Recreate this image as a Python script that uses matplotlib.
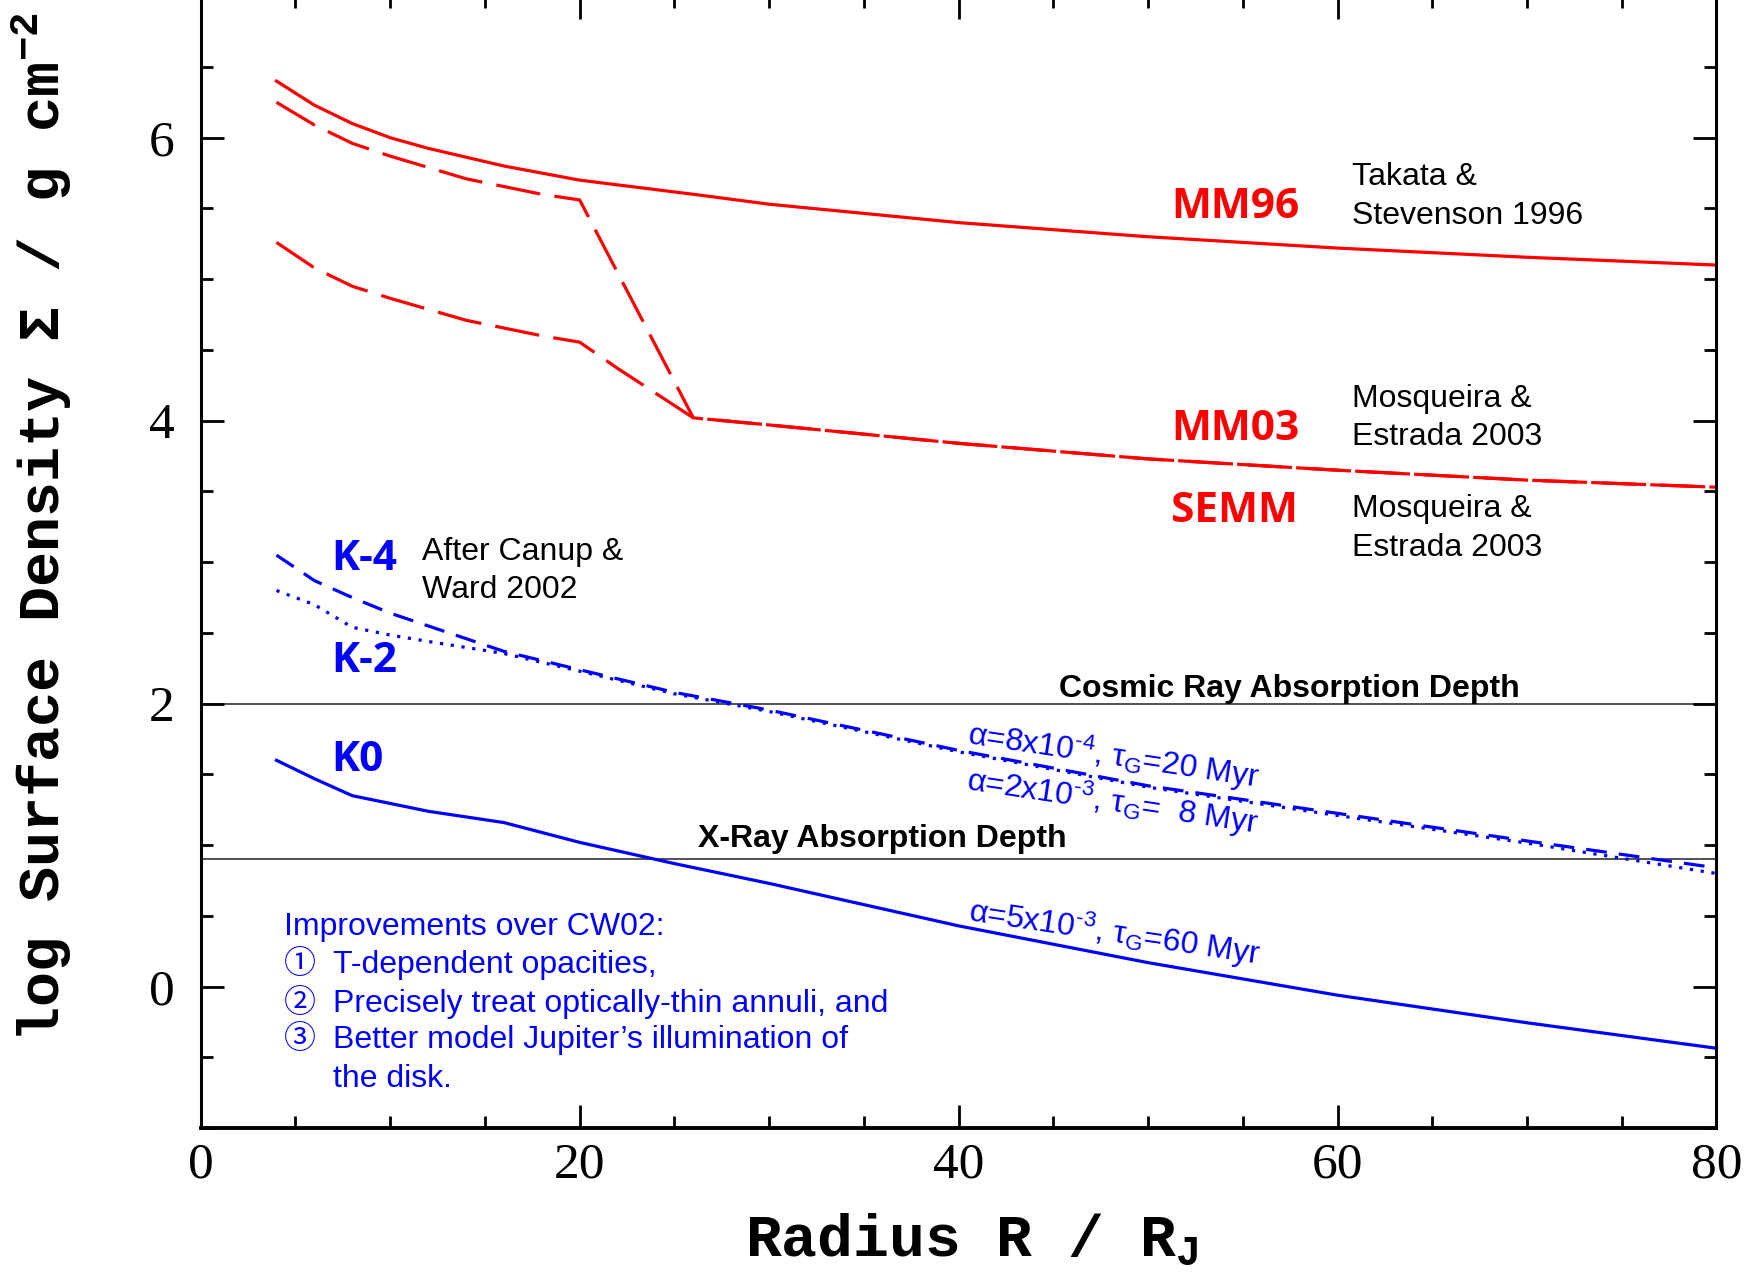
import matplotlib
matplotlib.use("Agg")
import matplotlib.pyplot as plt
from matplotlib.ticker import MultipleLocator

plt.rcParams['mathtext.fontset'] = 'custom'
plt.rcParams['mathtext.rm'] = 'Liberation Sans'
plt.rcParams['mathtext.it'] = 'Liberation Sans:italic'
plt.rcParams['mathtext.bf'] = 'Liberation Mono:bold'

# ---------------- data ----------------
r_mm96 = [4, 6, 8, 10, 12, 16, 20, 26, 30, 40, 50, 60, 70, 80]
s_mm96 = [6.40, 6.23, 6.10, 6.00, 5.925, 5.80, 5.70, 5.60, 5.53, 5.40, 5.30, 5.22, 5.155, 5.10]

r_mm03 = [4, 6, 8, 10, 14, 18, 20, 26, 30, 40, 50, 60, 70, 80]
s_mm03 = [6.25, 6.09, 5.96, 5.87, 5.71, 5.60, 5.56, 4.02, 3.97, 3.84, 3.73, 3.65, 3.58, 3.53]

r_semm = [4, 6, 8, 10, 14, 18, 20, 22, 26, 30, 40, 50, 60, 70, 80]
s_semm = [5.26, 5.08, 4.95, 4.865, 4.71, 4.60, 4.555, 4.37, 4.02, 3.97, 3.84, 3.73, 3.65, 3.58, 3.53]

r_k = [4, 6, 8, 10, 12, 16, 20, 25, 30, 40, 50, 60, 70, 80]
s_k4 = [3.05, 2.87, 2.75, 2.64, 2.55, 2.37, 2.24, 2.08, 1.955, 1.67, 1.42, 1.225, 1.03, 0.84]
s_k2 = [2.80, 2.70, 2.54, 2.485, 2.44, 2.355, 2.23, 2.07, 1.945, 1.66, 1.41, 1.21, 1.015, 0.80]

r_k0 = [4, 6, 8, 12, 16, 20, 25, 30, 40, 50, 60, 70, 80]
s_k0 = [1.60, 1.47, 1.35, 1.24, 1.16, 1.02, 0.87, 0.73, 0.43, 0.17, -0.06, -0.255, -0.435]

cosmic_ray_depth = 2.0
xray_depth = 0.9

x_major = [0, 20, 40, 60, 80]
y_major = [0, 2, 4, 6]

# ---------------- figure ----------------
W, H = 1758, 1275
fig = plt.figure(figsize=(W / 100, H / 100), dpi=100)
ax = fig.add_axes([200.7 / W, 1 - 1128.2 / H, (1716.5 - 200.7) / W, (1128.2 + 3.8) / H])
ax.set_xlim(0, 80)
ax.set_ylim(-1, 7)

RED = (1, 0, 0)
BLUE = (0, 0, 1)

ax.axhline(cosmic_ray_depth, color='#222222', lw=1.1, zorder=1)
ax.axhline(xray_depth, color='#222222', lw=1.1, zorder=1)

ax.plot(r_mm96, s_mm96, color=RED, lw=2.3)
ax.plot(r_mm03, s_mm03, color=RED, lw=2.3, dashes=(14, 4.5))
ax.plot(r_semm, s_semm, color=RED, lw=2.3, dashes=(14, 4.5))

ax.plot(r_k, s_k4, color=BLUE, lw=2.3, dashes=(6.5, 3.8))
ax.plot(r_k, s_k2, color=BLUE, lw=2.3, dashes=(1, 2.4))
ax.plot(r_k0, s_k0, color=BLUE, lw=2.3)

# ticks & spines
ax.set_xticks(x_major)
ax.set_yticks(y_major)
ax.xaxis.set_minor_locator(MultipleLocator(5))
ax.yaxis.set_minor_locator(MultipleLocator(0.5))
ax.tick_params(which='both', direction='in', top=True, right=True, width=2.0, color='black')
ax.tick_params(which='major', length=16.5)
ax.tick_params(which='minor', length=8.5)
ax.tick_params(axis='x', which='major', pad=10)
ax.tick_params(axis='y', which='major', pad=19)
for lab in ax.get_xticklabels() + ax.get_yticklabels():
    lab.set_fontfamily('Liberation Serif')
    lab.set_fontsize(37)
ax.spines['top'].set_visible(False)
ax.spines['left'].set_linewidth(2.2)
ax.spines['right'].set_linewidth(2.2)
ax.spines['bottom'].set_linewidth(2.8)

# axis labels
fig.text(972 / W, 1 - 1256 / H, r"Radius R / R$_{\mathbf{J}}$", family='Liberation Mono',
         weight='bold', fontsize=43, ha='center', va='baseline')
fig.text(42 / W, 1 - 1042 / H, r"log Surface Density Σ / g cm$^{\mathbf{-2}}$", family='Liberation Mono',
         weight='bold', fontsize=42, rotation=90, ha='center', va='bottom')

# model labels
lab_kw = dict(family='Open Sans', weight='bold', fontsize=30.5, va='baseline', ha='left')
ax.text(51.2, 5.43, "MM96", color=RED, **lab_kw)
ax.text(51.2, 3.864, "MM03", color=RED, **lab_kw)
ax.text(51.2, 3.286, "SEMM", color=RED, **lab_kw)
ax.text(6.91, 2.945, "K-4", color=BLUE, **lab_kw)
ax.text(6.91, 2.226, "K-2", color=BLUE, **lab_kw)
ax.text(6.91, 1.527, "K0", color=BLUE, **lab_kw)

ref_kw = dict(family='Liberation Sans', fontsize=23, va='baseline', ha='left', color='black')
ax.text(60.74, 5.666, "Takata &", **ref_kw)
ax.text(60.74, 5.388, "Stevenson 1996", **ref_kw)
ax.text(60.74, 4.099, "Mosqueira &", **ref_kw)
ax.text(60.74, 3.828, "Estrada 2003", **ref_kw)
ax.text(60.74, 3.322, "Mosqueira &", **ref_kw)
ax.text(60.74, 3.044, "Estrada 2003", **ref_kw)
ax.text(11.69, 3.016, "After Canup &", **ref_kw)
ax.text(11.69, 2.749, "Ward 2002", **ref_kw)

bold_kw = dict(family='Liberation Sans', weight='bold', fontsize=23, va='baseline', ha='center', color='black')
ax.text(57.45, 2.05, "Cosmic Ray Absorption Depth", **bold_kw)
ax.text(36.0, 0.99, "X-Ray Absorption Depth", **bold_kw)

alpha_kw = dict(family='Liberation Sans', fontsize=23, color=BLUE, rotation=-8.5,
                rotation_mode='anchor', ha='left', va='baseline')
ax.text(40.42, 1.715, r"α=8x10$^{\text{-4}}$, τ$_{\rm G}$=20 Myr", **alpha_kw)
ax.text(40.33, 1.39, r"α=2x10$^{\text{-3}}$, τ$_{\rm G}$=  8 Myr", **alpha_kw)
ax.text(40.47, 0.465, r"α=5x10$^{\text{-3}}$, τ$_{\rm G}$=60 Myr", **alpha_kw)

imp_kw = dict(fontsize=23, va='baseline', ha='left', color=BLUE)
ax.text(4.37, 0.365, "Improvements over CW02:", family='Liberation Sans', **imp_kw)
circ_fam = ['Noto Sans CJK JP', 'DejaVu Sans']
items = ["T-dependent opacities,", "Precisely treat optically-thin annuli, and",
         "Better model Jupiter’s illumination of", "the disk."]
marks = ["①", "②", "③", ""]
ys = [0.095, -0.177, -0.435, -0.707]
for m, t, yy in zip(marks, items, ys):
    if m:
        ax.text(4.37, yy, m, family=circ_fam, **imp_kw)
    ax.text(6.96, yy, t, family='Liberation Sans', **imp_kw)

fig.savefig("out.png", dpi=100)
